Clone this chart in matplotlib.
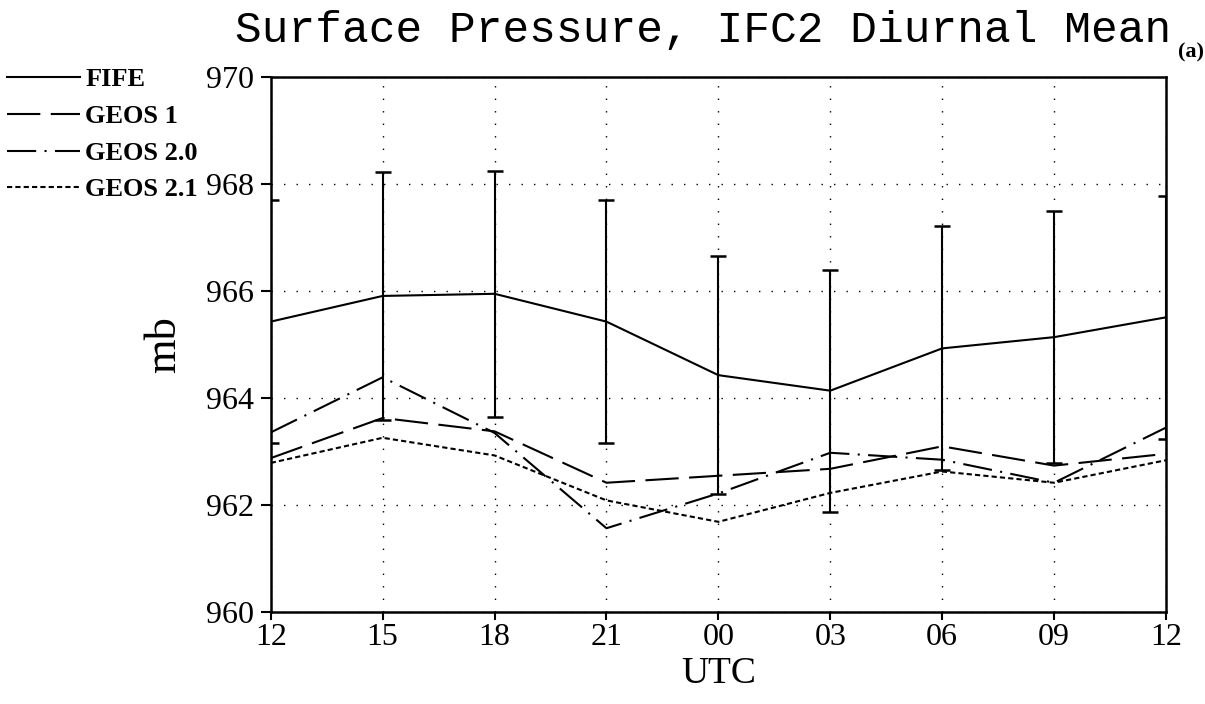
import numpy as np
import matplotlib
matplotlib.use('Agg')
import matplotlib.pyplot as plt

# values (mb)
hours = ['12', '15', '18', '21', '00', '03', '06', '09', '12']
fife = [965.43, 965.91, 965.95, 965.43, 964.43, 964.14, 964.93, 965.14, 965.51]
fife_sd = [2.27, 2.31, 2.30, 2.27, 2.22, 2.26, 2.28, 2.35, 2.27]
geos1 = [962.88, 963.63, 963.38, 962.42, 962.55, 962.68, 963.10, 962.74, 962.96]
geos20 = [963.36, 964.39, 963.35, 961.57, 962.22, 962.98, 962.85, 962.42, 963.45]
geos21 = [962.79, 963.26, 962.93, 962.09, 961.69, 962.23, 962.63, 962.42, 962.84]
yticks = [960, 962, 964, 966, 968, 970]

SERIF = 'Liberation Serif'
MONO = 'Liberation Mono'

fig = plt.figure(figsize=(12.05, 7.04), dpi=100)
ax = fig.add_axes([0.2247, 0.1303, 0.7429, 0.7603])
x = np.arange(len(hours))

lw = 1.5
ax.plot(x, fife, color='k', lw=lw, ls='-', label='FIFE')
ax.plot(x, geos1, color='k', lw=lw, ls=(0, (16, 5)), label='GEOS 1')
ax.plot(x, geos20, color='k', lw=lw, ls=(0, (14, 4, 1, 4)), label='GEOS 2.0')
ax.plot(x, geos21, color='k', lw=lw, ls=(0, (2.5, 1.5)), label='GEOS 2.1')

# std dev bars on the FIFE obs
eb = ax.errorbar(x, fife, yerr=fife_sd, fmt='none', ecolor='k',
                 elinewidth=1.5, capsize=6, capthick=1.8)
for c in eb[1]:
  c.set_clip_on(True)

ax.set_xlim(0, 8)
ax.set_ylim(960, 970)
ax.set_xticks(x)
ax.set_xticklabels(hours)
ax.set_yticks(yticks)
ax.set_yticklabels([str(v) for v in yticks])
ax.grid(True, color='k', lw=1.0, ls=(0, (1, 8)))

for sp in ax.spines.values():
  sp.set_linewidth(1.8)
ax.tick_params(axis='y', direction='out', length=7, width=1.5, pad=5)
ax.tick_params(axis='x', direction='out', length=6, width=1.5, pad=2)
for lab in ax.get_xticklabels() + ax.get_yticklabels():
  lab.set_fontfamily(SERIF)
  lab.set_fontsize(23)

ax.set_xlabel('UTC', fontfamily=SERIF, fontsize=27, labelpad=3)
ax.set_ylabel('mb', fontfamily=SERIF, fontsize=32, labelpad=16)

fig.text(0.5834, 1 - 42/704, 'Surface Pressure, IFC2 Diurnal Mean',
         fontfamily=MONO, fontsize=32, ha='center', va='baseline')
fig.text(0.9885, 1 - 52/704, '(a)', fontfamily=SERIF, fontsize=16,
         fontweight='bold', ha='center', va='center')

fig.legend(loc='upper left', bbox_to_anchor=(0.006, 1 - 68/704),
           frameon=False, handlelength=2.75, handletextpad=0.2,
           labelspacing=0.5, borderpad=0, borderaxespad=0,
           prop={'family': SERIF, 'weight': 'bold', 'size': 19})

fig.savefig('out.png', dpi=100)
